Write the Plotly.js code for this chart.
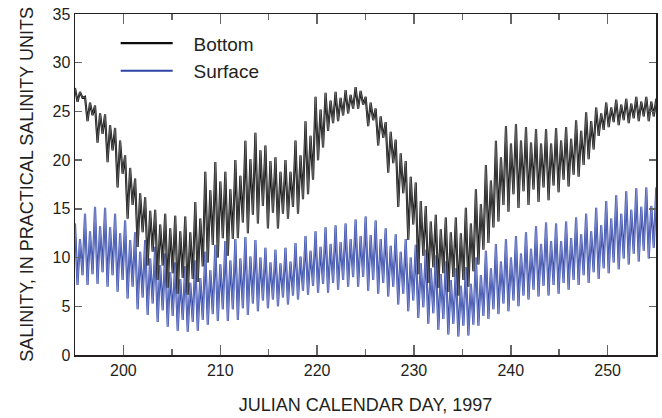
<!DOCTYPE html>
<html>
<head>
<meta charset="utf-8">
<script src="https://cdn.plot.ly/plotly-3.0.1.min.js"></script>
<style>html,body{margin:0;padding:0;background:#fff;}#chart{width:662px;height:418px;}</style>
</head>
<body>
<div id="chart"></div>
<script>
// Tidal sampling: one high and one low per tidal cycle, starting at day 195
const startDay = 195;
const tidalPeriodDays = 0.5175;

// Bottom salinity: high-water and low-water values for each tidal cycle
const bottomHigh = [
  27.4,27.0, 26.5,25.9, 25.6,24.8, 24.7,23.6, 23.3,22.0, 20.5,19.2, 18.1,16.6, 16.2,14.8,
  14.9,13.4, 14.5,13.0, 14.3,12.7, 14.2,12.6, 15.7,14.0, 18.8,16.9, 19.8,17.8, 18.8,17.0,
  20.0,18.4, 22.0,20.1, 22.8,21.0, 21.5,19.9, 20.3,18.8, 20.0,18.8, 22.0,20.5, 24.0,22.5,
  26.5,25.2, 26.9,26.1, 27.0,26.4, 27.2,26.7, 27.5,27.1, 26.5,25.9, 25.3,24.5, 23.9,22.9,
  22.1,20.7, 19.9,18.3, 17.7,15.8, 15.3,13.7, 14.4,12.9, 14.1,12.6, 14.1,12.5, 15.1,13.5,
  17.0,15.5, 19.5,17.9, 22.0,20.3, 23.5,21.7, 23.7,22.0, 23.4,21.8, 23.2,21.7, 23.2,21.7,
  23.3,22.0, 23.4,22.2, 24.1,23.0, 24.9,24.0, 25.4,24.8, 25.9,25.4, 26.2,25.7, 26.3,25.8,
  26.5,26.0, 26.5,26.0, 26.3,25.8
];
const bottomLow = [
  26.0,26.4, 24.0,24.6, 21.8,22.7, 19.8,21.0, 17.2,18.6, 14.0,15.4, 11.1,12.6, 9.2,10.6,
  7.7,9.2, 6.9,8.4, 6.3,7.9, 6.2,7.8, 7.5,9.1, 9.5,11.3, 10.0,12.0, 10.2,11.9,
  12.0,13.6, 12.5,14.4, 13.5,15.3, 13.0,14.6, 13.0,14.5, 14.0,15.2, 14.5,16.0, 16.5,18.0,
  20.0,21.3, 23.0,23.8, 24.0,24.6, 24.8,25.3, 25.3,25.7, 23.5,24.1, 21.5,22.3, 18.7,19.7,
  15.2,16.6, 11.8,13.4, 8.3,10.2, 7.4,9.0, 6.9,8.4, 6.5,8.0, 6.1,7.7, 7.0,8.6,
  9.3,10.8, 11.5,13.1, 13.7,15.4, 14.7,16.5, 15.1,16.8, 15.4,17.0, 15.7,17.2, 15.9,17.4,
  16.7,18.0, 17.3,18.5, 18.3,19.5, 20.1,21.1, 22.5,23.1, 23.4,23.9, 23.6,24.1, 23.8,24.3,
  24.0,24.5, 24.0,24.5, 23.5,24.0
];

// Surface salinity: high-water and low-water values for each tidal cycle
const surfaceHigh = [
  13.5,11.9, 14.5,12.7, 15.2,13.2, 15.1,13.1, 14.5,12.5, 13.8,11.8, 12.6,10.6, 11.8,9.9,
  11.1,9.2, 10.4,8.5, 9.5,7.8, 9.1,7.4, 9.7,7.9, 10.6,8.7, 11.3,9.3, 11.7,9.7,
  11.9,9.9, 12.1,10.1, 11.8,10.0, 11.0,9.5, 10.8,9.4, 11.0,9.6, 11.5,10.1, 12.2,10.7,
  12.7,11.1, 13.1,11.4, 13.3,11.6, 13.5,11.9, 13.9,12.2, 14.2,12.3, 13.8,11.9, 13.0,11.2,
  12.4,10.6, 11.9,10.0, 11.3,9.4, 10.8,8.9, 10.2,8.3, 9.6,7.7, 8.9,7.1, 9.0,7.3,
  10.0,8.2, 10.7,8.9, 11.4,9.6, 11.9,10.0, 12.2,10.4, 12.6,10.9, 13.2,11.4, 13.6,11.7,
  13.5,11.7, 13.7,12.0, 14.1,12.4, 14.5,12.7, 15.1,13.3, 15.8,14.0, 16.4,14.5, 16.8,14.9,
  17.1,15.2, 17.2,15.3, 17.2,15.3
];
const surfaceLow = [
  7.2,8.2, 7.2,8.3, 7.3,8.5, 7.0,8.2, 6.5,7.7, 5.8,7.0, 4.7,5.9, 4.1,5.3,
  3.4,4.6, 2.9,4.0, 2.5,3.6, 2.4,3.4, 2.5,3.6, 3.1,4.2, 3.5,4.7, 3.5,4.7,
  3.6,4.8, 4.1,5.3, 4.5,5.6, 4.8,5.7, 5.0,5.9, 5.2,6.1, 5.7,6.6, 6.2,7.1,
  6.4,7.3, 6.4,7.4, 6.7,7.7, 7.0,8.0, 7.0,8.0, 6.6,7.7, 6.3,7.4, 6.0,7.0,
  5.2,6.3, 4.5,5.6, 3.8,4.9, 3.2,4.3, 2.6,3.7, 2.1,3.2, 1.9,3.0, 2.0,3.1,
  3.0,4.0, 3.7,4.7, 4.2,5.3, 4.5,5.6, 5.0,6.1, 5.7,6.7, 6.0,7.1, 6.1,7.2,
  6.3,7.4, 6.7,7.7, 7.2,8.2, 7.4,8.5, 7.8,8.9, 8.4,9.5, 8.8,9.9, 9.3,10.4,
  9.6,10.7, 9.9,11.0, 10.1,11.2
];

const seriesNames = ['Bottom', 'Surface'];
const xTitle = 'JULIAN CALENDAR DAY, 1997';
const yTitle = 'SALINITY, IN PRACTICAL SALINITY UNITS';

function tideSeries(highs, lows) {
  const x = [], y = [];
  for (let k = 0; k < highs.length; k++) {
    x.push(startDay + k * tidalPeriodDays);
    y.push(highs[k]);
    x.push(startDay + k * tidalPeriodDays + tidalPeriodDays / 2);
    y.push(lows[k]);
  }
  return {x, y};
}

const b = tideSeries(bottomHigh, bottomLow);
const s = tideSeries(surfaceHigh, surfaceLow);

const FONT = '"Liberation Sans", Arial, sans-serif';
const TXT = '#231f20';
const PAD = '\u00a0\u00a0\u00a0';

const traces = [
  {x: s.x, y: s.y, mode: 'lines', name: PAD + seriesNames[1], legendrank: 2, line: {color: '#2e45a6', width: 2.1}, hoverinfo: 'skip'},
  {x: s.x, y: s.y, mode: 'lines', showlegend: false, line: {color: '#8e97d3', width: 0.8}, hoverinfo: 'skip'},
  {x: b.x, y: b.y, mode: 'lines', name: PAD + seriesNames[0], legendrank: 1, line: {color: '#0d0d0d', width: 2.1}, hoverinfo: 'skip'},
  {x: b.x, y: b.y, mode: 'lines', showlegend: false, line: {color: '#808080', width: 0.7}, hoverinfo: 'skip'}
];

const axisCommon = {
  showgrid: false, zeroline: false, showline: true, linecolor: TXT, linewidth: 1.5,
  mirror: 'ticks', ticks: 'inside', tickcolor: '#666', tickwidth: 1.5,
  tickfont: {family: FONT, size: 16, color: TXT}
};

const layout = {
  width: 662, height: 418,
  margin: {l: 75, r: 6, t: 14, b: 63},
  paper_bgcolor: '#fff', plot_bgcolor: '#fff',
  font: {family: FONT, color: TXT},
  showlegend: true,
  legend: {x: 0.07, y: 0.97, xanchor: 'left', yanchor: 'top', bgcolor: 'rgba(0,0,0,0)',
           traceorder: 'normal',
           font: {family: FONT, size: 19, color: TXT}, itemwidth: 52, tracegroupgap: 0},
  xaxis: Object.assign({}, axisCommon, {
    range: [195, 255], tick0: 200, dtick: 10, ticklen: 10,
    minor: {dtick: 5, tick0: 195, ticks: 'inside', ticklen: 6, tickcolor: '#666', tickwidth: 1.5},
    title: {text: xTitle, font: {family: FONT, size: 18, color: TXT}, standoff: 20}
  }),
  yaxis: Object.assign({}, axisCommon, {
    range: [0, 35], tick0: 0, dtick: 5, ticklen: 7,
    title: {text: yTitle, font: {family: FONT, size: 18, color: TXT}, standoff: 14}
  })
};

Plotly.newPlot('chart', traces, layout, {displayModeBar: false, staticPlot: true});
</script>
</body>
</html>
